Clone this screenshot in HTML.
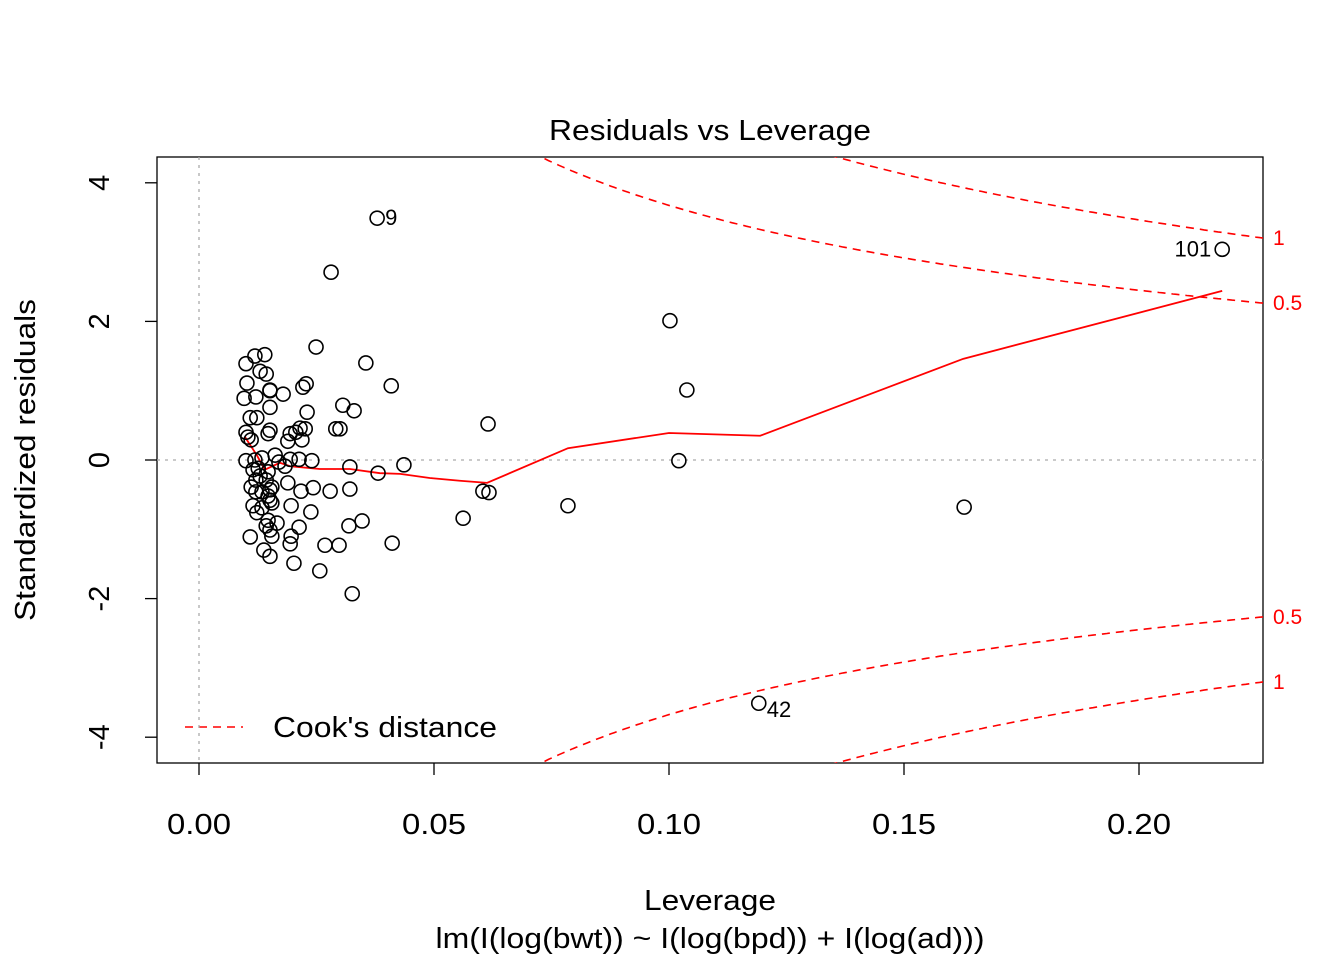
<!DOCTYPE html>
<html><head><meta charset="utf-8"><style>html,body{margin:0;background:#fff;overflow:hidden}svg{display:block;font-family:"Liberation Sans",Arial,sans-serif}</style></head>
<body>
<svg id="chart" width="1344" height="960" viewBox="0 0 1344 960">
<defs><clipPath id="clip"><rect x="157" y="157" width="1106" height="606"/></clipPath></defs>
<g id="axes"></g>
<g id="marks" clip-path="url(#clip)"></g>
<g id="pts"></g>
</svg>
<script>
const leverage=[0.0100,0.0119,0.0140,0.0102,0.0130,0.0143,0.0151,0.0179,0.0096,0.0121,0.0151,0.0151,0.0109,0.0123,0.0151,0.0147,0.0100,0.0104,0.0111,0.0194,0.0189,0.0206,0.0215,0.0219,0.0228,0.0221,0.0230,0.0249,0.0226,0.0119,0.0100,0.0134,0.0162,0.0170,0.0194,0.0213,0.0240,0.0115,0.0126,0.0147,0.0183,0.0130,0.0111,0.0121,0.0143,0.0155,0.0121,0.0134,0.0151,0.0147,0.0151,0.0189,0.0217,0.0243,0.0155,0.0134,0.0123,0.0115,0.0196,0.0238,0.0147,0.0143,0.0151,0.0166,0.0155,0.0109,0.0138,0.0151,0.0196,0.0194,0.0213,0.0202,0.0257,0.0268,0.0298,0.0319,0.0347,0.0321,0.0326,0.0279,0.0321,0.0381,0.0436,0.0291,0.0300,0.0306,0.0330,0.0409,0.0355,0.0379,0.0281,0.0562,0.0604,0.0617,0.0615,0.0785,0.1002,0.1021,0.1038,0.1628,0.1191,0.2177,0.0411];
const stdResid=[1.39,1.50,1.52,1.11,1.28,1.24,1.00,0.95,0.89,0.91,0.76,1.01,0.61,0.61,0.43,0.38,0.40,0.33,0.29,0.38,0.27,0.40,0.46,0.29,1.10,1.05,0.69,1.63,0.45,0,-0.01,0.03,0.07,-0.03,0.01,0.01,-0.01,-0.14,-0.12,-0.17,-0.09,-0.23,-0.39,-0.29,-0.29,-0.39,-0.46,-0.46,-0.43,-0.52,-0.58,-0.33,-0.45,-0.40,-0.62,-0.69,-0.76,-0.66,-0.66,-0.75,-0.87,-0.95,-1.01,-0.91,-1.10,-1.11,-1.30,-1.39,-1.10,-1.21,-0.97,-1.49,-1.60,-1.23,-1.23,-0.95,-0.88,-0.42,-1.93,-0.45,-0.10,-0.19,-0.07,0.45,0.45,0.79,0.71,1.07,1.40,3.49,2.71,-0.84,-0.45,-0.47,0.52,-0.66,2.01,-0.01,1.01,-0.68,-3.51,3.04,-1.20];
const pointLabels={89:"9",100:"42",101:"101"};
const smoothX=[0.0098,0.0123,0.0140,0.0172,0.0194,0.0257,0.0321,0.0385,0.0428,0.0491,0.0555,0.0613,0.0785,0.1000,0.1194,0.1626,0.2177];
const smoothY=[0.33,0.07,-0.14,-0.04,-0.09,-0.13,-0.13,-0.19,-0.20,-0.26,-0.30,-0.33,0.17,0.39,0.35,1.46,2.44];
const xTicks=[0,0.05,0.10,0.15,0.20];
const xTickLabels=["0.00","0.05","0.10","0.15","0.20"];
const yTicks=[-4,-2,0,2,4];
const cookLevels=[0.5,1];
const nParams=3;

const NS="http://www.w3.org/2000/svg";
const X=v=>199+v*4700, Y=v=>460-v*69.3;
function mk(parent,tag,attrs,text){const e=document.createElementNS(NS,tag);for(const k in attrs)e.setAttribute(k,attrs[k]);if(text!==undefined)e.textContent=text;document.getElementById(parent).appendChild(e);return e;}
let e;
e=mk("axes","rect",{x:157,y:157,width:1106,height:606,fill:"none",stroke:"#000","stroke-width":1.3});


e=mk("axes","text",{x:710,y:140,"text-anchor":"middle","font-size":29,textLength:322,lengthAdjust:"spacingAndGlyphs"},"Residuals vs Leverage");


e=mk("axes","text",{x:710,y:910,"text-anchor":"middle","font-size":29,textLength:132,lengthAdjust:"spacingAndGlyphs"},"Leverage");


e=mk("axes","text",{x:710,y:948,"text-anchor":"middle","font-size":29,textLength:549,lengthAdjust:"spacingAndGlyphs"},"lm(I(log(bwt)) ~ I(log(bpd)) + I(log(ad)))");


e=mk("axes","text",{x:0,y:0,"text-anchor":"middle","font-size":29,textLength:322,lengthAdjust:"spacingAndGlyphs",transform:"translate(35,460) rotate(-90)"},"Standardized residuals");


xTicks.forEach((t,i)=>{
  e=mk("axes","line",{x1:X(t),x2:X(t),y1:763,y2:775,stroke:"#000","stroke-width":1.3});
  
  
  e=mk("axes","text",{x:X(t),y:834,"text-anchor":"middle","font-size":29,textLength:64,lengthAdjust:"spacingAndGlyphs"},xTickLabels[i]);
  
  
});
yTicks.forEach(t=>{
  e=mk("axes","line",{x1:145,x2:157,y1:Y(t),y2:Y(t),stroke:"#000","stroke-width":1.3});
  
  
  e=mk("axes","text",{x:0,y:0,"text-anchor":"middle","font-size":29,transform:`translate(109,${Y(t)}) rotate(-90)`},String(t));
  
  
});
e=mk("marks","line",{x1:157,x2:1263,y1:Y(0),y2:Y(0),stroke:"#aaa","stroke-width":1.3,"stroke-dasharray":"3,5"});


e=mk("marks","line",{x1:X(0),x2:X(0),y1:157,y2:763,stroke:"#aaa","stroke-width":1.3,"stroke-dasharray":"3,5"});


const hMax=(1263-199)/4700;
cookLevels.forEach(c=>{
  [1,-1].forEach(s=>{
    let d="";
    for(let i=0;i<=300;i++){const h=0.005+(hMax-0.005)*i/300;const r=s*Math.sqrt(c*nParams*(1-h)/h);d+=(i?"L":"M")+X(h).toFixed(1)+","+Y(r).toFixed(1);}
    e=mk("marks","path",{d:d,fill:"none",stroke:"#f00","stroke-width":1.6,"stroke-dasharray":"8,6"});
    
    
    const rEnd=s*Math.sqrt(c*nParams*(1-hMax)/hMax);
    e=mk("axes","text",{x:1273,y:Y(rEnd)+7,"font-size":21,fill:"#f00"},String(c));
    
    
  });
});
e=mk("marks","polyline",{points:smoothX.map((x,i)=>X(x)+","+Y(smoothY[i])).join(" "),fill:"none",stroke:"#f00","stroke-width":1.8});


leverage.forEach((h,i)=>{
  e=mk("pts","circle",{cx:X(h),cy:Y(stdResid[i]),r:7,fill:"none",stroke:"#000","stroke-width":1.6});
  
  
  if(pointLabels[i]!==undefined){
    const right=i!==101;
    e=mk("pts","text",{x:right?X(h)+8:X(h)-11,y:Y(stdResid[i])+(i===100?14:7),"font-size":22,"text-anchor":right?"start":"end"},pointLabels[i]);
    
    
  }
});
e=mk("axes","line",{x1:185,x2:243,y1:727,y2:727,stroke:"#f00","stroke-width":1.6,"stroke-dasharray":"8,6"});


e=mk("axes","text",{x:273,y:737,"font-size":29,textLength:224,lengthAdjust:"spacingAndGlyphs"},"Cook's distance");


</script>
</body></html>
